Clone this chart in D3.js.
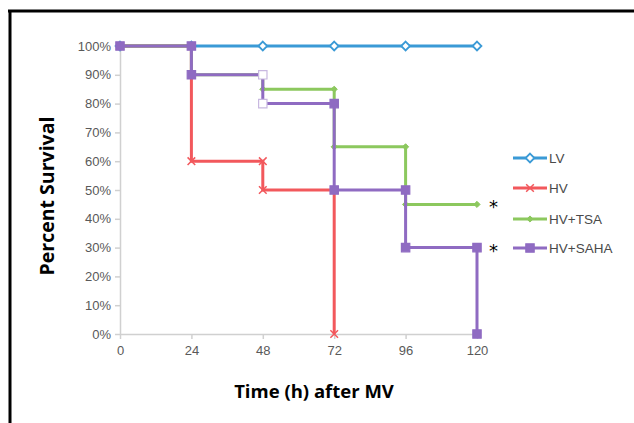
<!DOCTYPE html>
<html><head><meta charset="utf-8">
<script src="https://cdn.jsdelivr.net/npm/d3@7"></script>
<style>html,body{margin:0;padding:0;background:#fff;}svg{display:block;}</style>
</head><body>
<svg id="c" width="634" height="423"></svg>
<script>
const xTicks = [0, 24, 48, 72, 96, 120];
const yTicks = [0, 10, 20, 30, 40, 50, 60, 70, 80, 90, 100];
const seriesNames = ["LV", "HV", "HV+TSA", "HV+SAHA"];
const lvTimes = [0, 24, 48, 72, 96, 120];
const lvValues = [100, 100, 100, 100, 100, 100];
const hvTimes = [0, 24, 24, 48, 48, 72, 72];
const hvValues = [100, 100, 60, 60, 50, 50, 0];
const tsaTimes = [0, 24, 24, 48, 48, 72, 72, 96, 96, 120];
const tsaValues = [100, 100, 90, 90, 85, 85, 65, 65, 45, 45];
const sahaTimes = [0, 24, 24, 48, 48, 72, 72, 96, 96, 120, 120];
const sahaValues = [100, 100, 90, 90, 80, 80, 50, 50, 30, 30, 0];
const colors = ["#3a9ad6", "#f2585c", "#8cc85e", "#8f6bc2"];
const markers = ["diamond", "cross", "smalldiamond", "square"];
const significant = [false, false, true, true];

const svg = d3.select("#c");
const x = d3.scaleLinear().domain([0, 120]).range([120, 477]);
const y = d3.scaleLinear().domain([0, 100]).range([334, 46]);

// frame
svg.append("line").attr("x1", 8).attr("x2", 634).attr("y1", 11).attr("y2", 11).attr("stroke", "#000").attr("stroke-width", 3);
svg.append("line").attr("x1", 10).attr("x2", 10).attr("y1", 10).attr("y2", 423).attr("stroke", "#000").attr("stroke-width", 3);

// axes
const xAxis = svg.append("g").attr("transform", `translate(0,${y(0)})`)
  .call(d3.axisBottom(x).tickValues(xTicks).tickSize(5).tickSizeOuter(0));
const yAxis = svg.append("g").attr("transform", `translate(${x(0)},0)`)
  .call(d3.axisLeft(y).tickValues(yTicks).tickSize(5).tickSizeOuter(0).tickFormat(d => d + "%"));
[xAxis, yAxis].forEach(g => {
  g.select(".domain").attr("stroke", "#d0d0d0").attr("stroke-width", 1.5);
  g.selectAll(".tick line").attr("stroke", "#d0d0d0").attr("stroke-width", 1.5);
  g.selectAll(".tick text").attr("fill", "#595959").attr("font-family", "Liberation Sans, Arial, sans-serif").attr("font-size", 13);
});
yAxis.selectAll(".tick text").attr("x", -9);
xAxis.selectAll(".tick text").attr("y", 12);

const series = [
  {t: lvTimes, v: lvValues},
  {t: hvTimes, v: hvValues},
  {t: tsaTimes, v: tsaValues},
  {t: sahaTimes, v: sahaValues}
];

function drawMarker(g, type, cx, cy, color, open) {
  if (type === "diamond") {
    g.append("path").attr("d", d3.symbol(d3.symbolDiamond2, 50)())
      .attr("transform", `translate(${cx},${cy})`).attr("fill", "#fff").attr("stroke", color).attr("stroke-width", 1.8);
  } else if (type === "cross") {
    g.append("path").attr("d", d3.symbol(d3.symbolX, 40)())
      .attr("transform", `translate(${cx},${cy})`).attr("fill", "none").attr("stroke", color).attr("stroke-width", 1.5);
  } else if (type === "smalldiamond") {
    g.append("path").attr("d", d3.symbol(d3.symbolDiamond2, 24)())
      .attr("transform", `translate(${cx},${cy})`).attr("fill", color).attr("stroke", color);
  } else {
    g.append("path").attr("d", d3.symbol(d3.symbolSquare, 70)())
      .attr("transform", `translate(${cx},${cy})`)
      .attr("fill", open ? "#fff" : color).attr("stroke", open ? "#c8b8e0" : color).attr("stroke-width", 1.2);
  }
}

const line = d3.line().x(d => x(d[0])).y(d => y(d[1]));
series.forEach((s, i) => {
  const pts = s.t.map((t, k) => [t, s.v[k]]);
  const g = svg.append("g");
  g.append("path").datum(pts).attr("d", line).attr("fill", "none").attr("stroke", colors[i]).attr("stroke-width", 3);
  pts.forEach(p => {
    const open = (i === 3 && p[0] === 48);
    drawMarker(g, markers[i], x(p[0]), y(p[1]), colors[i], open);
  });
  if (significant[i]) {
    const last = pts.filter(p => p[0] === 120)[0];
    svg.append("text").attr("x", x(120) + 12).attr("y", y(last[1]) + 9)
      .attr("font-family", "DejaVu Sans, sans-serif").attr("font-size", 18).attr("fill", "#000").text("*");
  }
});

// legend
const legY = [158, 188, 219, 248];
seriesNames.forEach((n, i) => {
  const g = svg.append("g");
  g.append("line").attr("x1", 513).attr("x2", 547).attr("y1", legY[i]).attr("y2", legY[i]).attr("stroke", colors[i]).attr("stroke-width", 3);
  drawMarker(g, markers[i], 530, legY[i], colors[i], false);
  g.append("text").attr("x", 549).attr("y", legY[i] + 5).attr("fill", "#4a4a4a")
    .attr("font-family", "Liberation Sans, Arial, sans-serif").attr("font-size", 13.5).text(n);
});

// titles
svg.append("text").attr("transform", `translate(54,196) rotate(-90)`).attr("text-anchor", "middle")
  .attr("font-family", "Open Sans, sans-serif").attr("font-weight", "bold").attr("font-size", 19.5).attr("fill", "#000").text("Percent Survival");
svg.append("text").attr("x", 314).attr("y", 398).attr("text-anchor", "middle")
  .attr("font-family", "Open Sans, sans-serif").attr("font-weight", "bold").attr("font-size", 18.5).attr("fill", "#000").text("Time (h) after MV");
</script>
</body></html>
